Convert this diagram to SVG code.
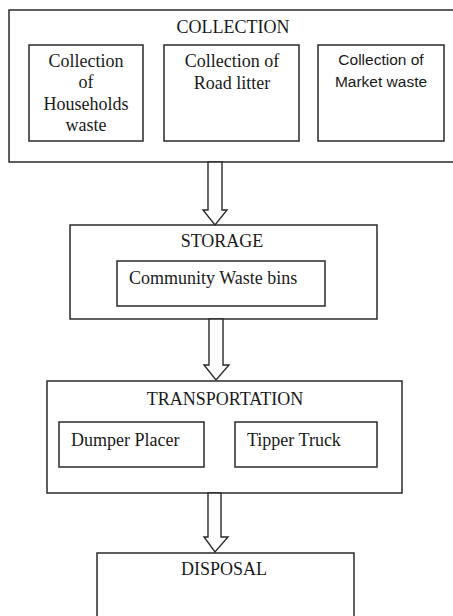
<svg xmlns="http://www.w3.org/2000/svg" width="453" height="616" viewBox="0 0 453 616">
  <style>
    .box { fill: #fff; stroke: #2a2a2a; stroke-width: 1.5; }
    .arrow { fill: #fff; stroke: #2a2a2a; stroke-width: 1.4; stroke-linejoin: miter; }
    .t { font-family: "Liberation Serif", "Times New Roman", serif; font-size: 18px; fill: #1a1a1a; }
    .c { text-anchor: middle; }
    .s { font-family: "Liberation Sans", Arial, sans-serif; font-size: 15.5px; fill: #1a1a1a; text-anchor: middle; }
  </style>
  <rect width="453" height="616" fill="#fff"/>

  <g id="collection">
    <rect class="box" x="9" y="10" width="460" height="152"/>
    <text class="t c" x="233" y="33">COLLECTION</text>
    <g id="households">
      <rect class="box" x="29" y="45" width="114" height="96"/>
      <text class="t c" x="86" y="67">Collection</text>
      <text class="t c" x="86" y="88">of</text>
      <text class="t c" x="86" y="110">Households</text>
      <text class="t c" x="86" y="131">waste</text>
    </g>
    <g id="road-litter">
      <rect class="box" x="164" y="45" width="135" height="96"/>
      <text class="t c" x="232" y="67">Collection of</text>
      <text class="t c" x="232" y="89">Road litter</text>
    </g>
    <g id="market-waste">
      <rect class="box" x="318" y="45" width="126" height="96"/>
      <text class="s" x="381" y="65">Collection of</text>
      <text class="s" x="381" y="87">Market waste</text>
    </g>
  </g>

  <g id="storage">
    <rect class="box" x="70" y="225" width="307" height="94"/>
    <text class="t c" x="222" y="247">STORAGE</text>
    <g id="bins">
      <rect class="box" x="117" y="261" width="208" height="45"/>
      <text class="t" x="129" y="284">Community Waste bins</text>
    </g>
  </g>

  <g id="transportation">
    <rect class="box" x="47" y="381" width="355" height="112"/>
    <text class="t c" x="225" y="405">TRANSPORTATION</text>
    <g id="dumper-placer">
      <rect class="box" x="59" y="422" width="145" height="45"/>
      <text class="t" x="71" y="446">Dumper Placer</text>
    </g>
    <g id="tipper-truck">
      <rect class="box" x="235" y="422" width="142" height="45"/>
      <text class="t" x="247" y="446">Tipper Truck</text>
    </g>
  </g>

  <g id="disposal">
    <rect class="box" x="97" y="553" width="257" height="80"/>
    <text class="t c" x="224" y="575">DISPOSAL</text>
  </g>

  <g id="connectors">
    <polygon class="arrow" points="208,162 208,210 203,210 215,225 227,210 222,210 222,162"/>
    <polygon class="arrow" points="209,319 209,365 204,365 216,380 229,365 223,365 223,319"/>
    <polygon class="arrow" points="208,493 208,537 204,537 215,552 228,537 221,537 221,493"/>
  </g>
</svg>
